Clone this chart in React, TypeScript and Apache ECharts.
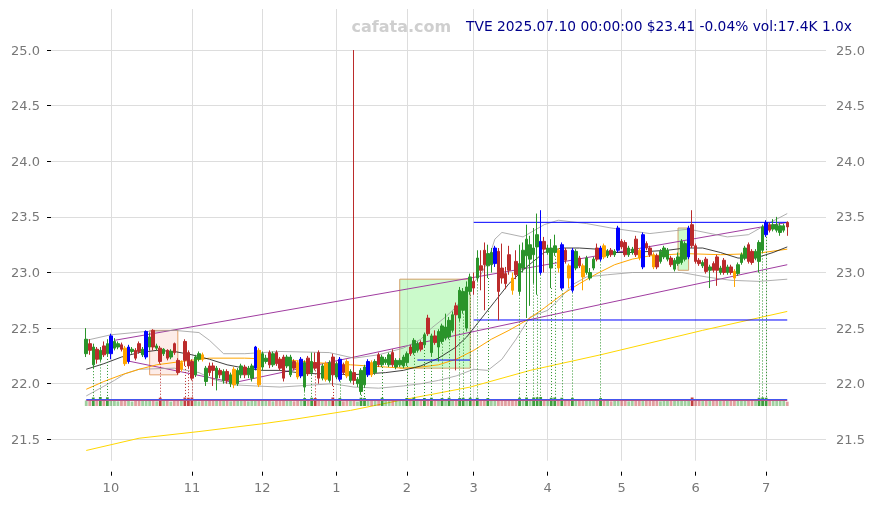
import React, { useEffect, useRef } from 'react';
import * as echarts from 'echarts';

// ---------- data ----------
const TITLE = 'TVE 2025.07.10 00:00:00 $23.41 -0.04% vol:17.4K 1.0x';
const WATERMARK = 'cafata.com';

const HOLIDAYS = ['2024-11-28', '2024-12-25', '2025-01-01', '2025-01-09', '2025-01-20', '2025-02-17', '2025-04-18', '2025-05-26', '2025-06-19', '2025-07-04'];

const yTicks = [21.5, 22.0, 22.5, 23.0, 23.5, 24.0, 24.5, 25.0];

// [open, close, low, high]
const ohlc: number[][] = [
  [22.27, 22.40, 22.24, 22.50], [22.36, 22.30, 22.26, 22.40], [22.17, 22.33, 22.14, 22.36], [22.31, 22.22, 22.18, 22.33], [22.22, 22.30, 22.20, 22.33],
  [22.34, 22.26, 22.24, 22.38], [22.27, 22.36, 22.25, 22.40], [22.27, 22.43, 22.22, 22.45], [22.32, 22.38, 22.30, 22.41], [22.33, 22.36, 22.31, 22.38],
  [22.35, 22.31, 22.29, 22.37], [22.32, 22.18, 22.16, 22.34], [22.20, 22.33, 22.18, 22.35], [22.29, 22.31, 22.27, 22.33], [22.30, 22.23, 22.21, 22.32],
  [22.36, 22.29, 22.27, 22.38], [22.26, 22.31, 22.24, 22.33], [22.24, 22.47, 22.22, 22.48], [22.33, 22.42, 22.30, 22.46], [22.48, 22.33, 22.30, 22.49],
  [22.32, 22.34, 22.30, 22.36], [22.32, 22.20, 22.18, 22.34], [22.27, 22.31, 22.25, 22.32], [22.30, 22.23, 22.21, 22.31], [22.24, 22.29, 22.22, 22.31],
  [22.36, 22.28, 22.26, 22.37], [22.21, 22.10, 22.08, 22.23], [22.13, 22.19, 22.11, 22.21], [22.38, 22.21, 22.16, 22.40], [22.28, 22.16, 22.14, 22.30],
  [22.20, 22.05, 22.03, 22.22], [22.08, 22.24, 22.06, 22.26], [22.22, 22.27, 22.20, 22.29], [22.26, 22.22, 22.20, 22.28], [22.02, 22.14, 21.98, 22.16],
  [22.16, 22.10, 22.07, 22.19], [22.16, 22.12, 21.98, 22.19], [22.05, 22.14, 21.94, 22.16], [22.12, 22.08, 22.05, 22.14], [22.03, 22.11, 22.00, 22.13],
  [22.11, 22.03, 22.00, 22.13], [22.00, 22.08, 21.97, 22.10], [22.13, 21.99, 21.96, 22.15], [22.00, 22.12, 21.98, 22.14], [22.08, 22.16, 22.05, 22.18],
  [22.15, 22.08, 22.05, 22.17], [22.08, 22.14, 22.05, 22.16], [22.05, 22.16, 22.02, 22.18], [22.14, 22.33, 22.12, 22.34], [22.30, 21.99, 21.97, 22.32],
  [22.15, 22.27, 22.12, 22.29], [22.20, 22.23, 22.18, 22.26], [22.28, 22.17, 22.14, 22.30], [22.17, 22.27, 22.15, 22.29], [22.28, 22.18, 22.16, 22.30],
  [22.22, 22.14, 22.12, 22.24], [22.24, 22.05, 22.02, 22.26], [22.16, 22.24, 22.14, 22.26], [22.08, 22.24, 22.06, 22.26], [22.20, 22.14, 22.12, 22.22],
  [22.19, 22.06, 22.04, 22.21], [22.07, 22.22, 22.05, 22.24], [21.97, 22.19, 21.93, 22.21], [22.23, 22.09, 22.07, 22.25], [22.10, 22.20, 22.08, 22.28],
  [22.19, 22.14, 22.12, 22.28], [22.28, 22.05, 22.00, 22.30], [22.05, 22.16, 22.03, 22.18], [22.18, 22.04, 22.02, 22.20], [22.03, 22.19, 22.01, 22.21],
  [22.24, 22.08, 21.98, 22.27], [22.06, 22.18, 22.04, 22.20], [22.04, 22.22, 22.02, 22.24], [22.17, 22.10, 22.08, 22.19], [22.20, 22.07, 22.05, 22.22],
  [22.03, 22.11, 22.01, 22.13], [22.10, 22.03, 21.99, 25.00], [22.00, 22.04, 21.97, 22.06], [21.93, 22.12, 21.90, 22.14], [21.99, 22.15, 21.97, 22.17],
  [22.08, 22.20, 22.06, 22.22], [22.19, 22.08, 22.06, 22.21], [22.10, 22.20, 22.08, 22.22], [22.26, 22.17, 22.15, 22.28], [22.17, 22.24, 22.15, 22.26],
  [22.19, 22.22, 22.17, 22.24], [22.17, 22.26, 22.15, 22.28], [22.28, 22.17, 22.15, 22.31], [22.15, 22.21, 22.13, 22.23], [22.17, 22.21, 22.15, 22.23],
  [22.16, 22.24, 22.14, 22.26], [22.19, 22.27, 22.16, 22.29], [22.33, 22.27, 22.25, 22.35], [22.28, 22.39, 22.26, 22.41], [22.30, 22.36, 22.28, 22.38],
  [22.37, 22.31, 22.29, 22.39], [22.35, 22.44, 22.33, 22.46], [22.59, 22.45, 22.43, 22.62], [22.28, 22.43, 22.25, 22.45], [22.43, 22.37, 22.35, 22.48],
  [22.33, 22.47, 22.20, 22.49], [22.38, 22.52, 22.36, 22.54], [22.41, 22.51, 22.39, 22.63], [22.42, 22.57, 22.40, 22.60], [22.48, 22.62, 22.46, 22.65],
  [22.70, 22.62, 22.12, 22.73], [22.59, 22.84, 22.56, 22.87], [22.66, 22.83, 22.63, 22.86], [22.50, 22.87, 22.47, 22.92], [22.83, 22.96, 22.80, 22.99],
  [22.92, 22.86, 22.80, 23.00], [22.95, 23.13, 22.92, 23.20], [23.06, 23.02, 22.84, 23.20], [23.20, 23.07, 22.66, 23.27], [23.06, 23.17, 22.95, 23.25],
  [23.07, 23.18, 23.00, 23.22], [23.08, 23.22, 23.05, 23.24], [23.19, 22.83, 22.57, 23.22], [23.04, 22.95, 22.90, 23.26], [22.99, 22.90, 22.85, 23.05],
  [23.16, 23.02, 22.98, 23.24], [22.95, 22.84, 22.80, 23.00], [23.10, 22.98, 22.94, 23.20], [22.83, 23.08, 22.80, 23.25], [23.04, 23.20, 23.00, 23.27],
  [23.15, 23.30, 22.60, 23.43], [23.12, 23.25, 22.70, 23.33], [23.16, 23.22, 22.90, 23.40], [23.23, 23.34, 22.80, 23.53], [23.00, 23.28, 22.98, 23.56],
  [23.28, 23.21, 23.00, 23.32], [23.18, 23.22, 23.16, 23.25], [23.04, 23.22, 22.86, 23.30], [23.18, 23.24, 23.15, 23.34], [23.20, 23.04, 23.00, 23.22],
  [22.86, 23.25, 22.84, 23.27], [23.20, 23.11, 23.08, 23.22], [23.06, 22.95, 22.86, 23.08], [22.84, 23.20, 22.82, 23.22], [23.04, 23.19, 23.02, 23.21],
  [23.13, 23.06, 23.04, 23.15], [23.06, 22.96, 22.84, 23.08], [23.00, 23.13, 22.98, 23.15], [22.95, 23.00, 22.93, 23.04], [23.04, 23.12, 23.02, 23.14],
  [23.22, 23.12, 23.10, 23.26], [23.12, 23.22, 23.10, 23.24], [23.24, 23.14, 23.12, 23.26], [23.15, 23.19, 23.13, 23.21], [23.20, 23.16, 23.14, 23.22],
  [23.16, 23.19, 23.14, 23.21], [23.20, 23.40, 23.18, 23.42], [23.28, 23.23, 23.21, 23.30], [23.27, 23.16, 23.14, 23.29], [23.16, 23.22, 23.14, 23.24],
  [23.18, 23.21, 23.16, 23.23], [23.30, 23.16, 23.14, 23.33], [23.20, 23.13, 23.11, 23.22], [23.05, 23.34, 23.03, 23.36], [23.26, 23.22, 23.20, 23.28],
  [23.22, 23.16, 23.14, 23.24], [23.16, 23.05, 23.03, 23.18], [23.15, 23.05, 23.03, 23.17], [23.10, 23.19, 23.08, 23.21], [23.14, 23.22, 23.12, 23.24],
  [23.12, 23.20, 23.10, 23.22], [23.13, 23.07, 23.05, 23.15], [23.03, 23.11, 23.01, 23.13], [23.08, 23.14, 23.06, 23.18], [23.09, 23.28, 23.07, 23.30],
  [23.12, 23.26, 23.10, 23.28], [23.14, 23.40, 23.12, 23.42], [23.43, 23.24, 23.22, 23.56], [23.24, 23.10, 23.08, 23.26], [23.11, 23.08, 23.06, 23.13],
  [23.06, 23.09, 23.04, 23.11], [23.12, 23.01, 22.99, 23.14], [23.02, 23.05, 22.86, 23.07], [23.08, 23.02, 23.00, 23.10], [23.14, 23.02, 22.88, 23.16],
  [23.00, 23.04, 22.98, 23.06], [23.11, 23.00, 22.98, 23.13], [23.00, 23.05, 22.98, 23.07], [23.05, 23.00, 22.98, 23.07], [23.01, 22.95, 22.87, 23.03],
  [22.99, 23.07, 22.97, 23.09], [23.09, 23.16, 23.07, 23.18], [23.13, 23.22, 23.11, 23.24], [23.25, 23.10, 23.08, 23.27], [23.19, 23.09, 23.07, 23.21],
  [23.13, 23.19, 23.11, 23.21], [23.10, 23.27, 23.00, 23.29], [23.20, 23.41, 23.18, 23.43], [23.34, 23.45, 23.32, 23.47], [23.43, 23.38, 23.36, 23.45],
  [23.39, 23.43, 23.37, 23.48], [23.38, 23.43, 23.36, 23.50], [23.36, 23.42, 23.33, 23.45], [23.38, 23.42, 23.36, 23.44], [23.45, 23.41, 23.33, 23.46],
];

// volume in thousands
const volumes = [
  22, 24, 34, 20, 36, 26, 35, 26, 21, 19,
  23, 25, 22, 18, 21, 24, 20, 27, 22, 25,
  19, 33, 21, 23, 18, 22, 26, 20, 34, 33,
  34, 22, 19, 21, 24, 22, 25, 23, 20, 21,
  22, 19, 24, 21, 20, 22, 19, 21, 26, 28,
  24, 20, 22, 19, 21, 23, 25, 20, 22, 19,
  21, 23, 32, 20, 33, 32, 24, 21, 22, 20,
  34, 21, 32, 19, 22, 20, 22, 18, 33, 32,
  24, 21, 20, 22, 33, 21, 20, 23, 21, 22,
  24, 32, 21, 33, 20, 22, 32, 24, 33, 21,
  22, 32, 21, 33, 22, 24, 32, 33, 23, 33,
  24, 33, 22, 24, 32, 21, 22, 26, 22, 21,
  23, 21, 22, 33, 22, 34, 23, 34, 35, 36,
  24, 22, 33, 34, 22, 33, 21, 22, 33, 22,
  21, 22, 22, 20, 21, 22, 32, 21, 20, 19,
  21, 24, 22, 20, 19, 21, 22, 20, 24, 21,
  20, 21, 22, 19, 20, 21, 22, 20, 21, 22,
  21, 23, 34, 22, 21, 20, 22, 21, 20, 22,
  21, 20, 22, 21, 23, 20, 21, 22, 20, 21,
  22, 33, 34, 33, 21, 20, 22, 21, 20, 17.4,
];
const volLineBlue = 28;
const volLineRed = 25;

const blueDays = [7, 12, 17, 48, 61, 72, 80, 116, 129, 135, 138, 146, 151, 158, 171, 193];
const orangeDays = [11, 27, 33, 42, 49, 60, 68, 74, 81, 121, 134, 137, 141, 147, 157, 161, 184];
const dottedDays = [2, 4, 6, 21, 28, 29, 30, 62, 64, 65, 70, 72, 78, 79, 84, 91, 93, 96, 98, 101, 103, 106, 107, 109, 111, 114, 123, 125, 127, 128, 129, 132, 133, 135, 138, 146, 191, 192, 193];
const dottedBottom = 21.85;

// overlay lines: [candle index, price]
const yellowPts = [[0, 21.40], [15, 21.51], [32, 21.57], [50, 21.64], [59, 21.68], [75, 21.76], [89, 21.85], [109, 21.97], [126, 22.12], [146, 22.26], [175, 22.48], [199, 22.65]];
const blackPts = [[0, 22.13], [5, 22.18], [10, 22.24], [15, 22.28], [20, 22.30], [25, 22.29], [30, 22.26], [35, 22.22], [40, 22.17], [45, 22.14], [50, 22.12], [55, 22.12], [60, 22.10], [65, 22.09], [70, 22.09], [75, 22.08], [80, 22.09], [85, 22.10], [90, 22.12], [95, 22.16], [100, 22.23], [105, 22.33], [108, 22.42], [110, 22.50], [113, 22.62], [116, 22.74], [120, 22.90], [125, 23.05], [130, 23.18], [135, 23.22], [140, 23.22], [145, 23.21], [150, 23.18], [155, 23.18], [160, 23.19], [165, 23.20], [170, 23.22], [175, 23.22], [180, 23.18], [185, 23.13], [190, 23.13], [195, 23.18], [199, 23.23]];
const orangePts = [[0, 21.95], [5, 22.02], [10, 22.08], [15, 22.13], [20, 22.17], [27, 22.20], [35, 22.23], [45, 22.23], [55, 22.22], [65, 22.19], [75, 22.17], [85, 22.15], [90, 22.14], [95, 22.15], [100, 22.17], [105, 22.22], [110, 22.30], [115, 22.40], [120, 22.48], [125, 22.57], [130, 22.68], [135, 22.80], [140, 22.90], [145, 22.99], [150, 23.07], [155, 23.12], [160, 23.15], [170, 23.17], [180, 23.16], [190, 23.17], [199, 23.21]];
const upperBandPts = [[0, 22.39], [7, 22.44], [17, 22.47], [25, 22.48], [32, 22.46], [35, 22.39], [39, 22.27], [45, 22.27], [55, 22.29], [69, 22.28], [76, 22.23], [83, 22.26], [90, 22.32], [95, 22.40], [98, 22.50], [102, 22.60], [105, 22.69], [109, 22.88], [112, 22.98], [114, 23.10], [116, 23.30], [118, 23.36], [124, 23.32], [130, 23.43], [134, 23.47], [142, 23.44], [149, 23.40], [160, 23.35], [171, 23.39], [182, 23.32], [188, 23.34], [193, 23.43], [199, 23.53]];
const lowerBandPts = [[0, 21.89], [8, 22.03], [11, 22.09], [15, 22.13], [25, 22.14], [32, 22.10], [36, 22.04], [42, 21.99], [48, 21.98], [55, 21.97], [65, 21.99], [70, 22.00], [76, 21.97], [83, 21.96], [90, 21.98], [95, 22.00], [100, 22.03], [105, 22.07], [110, 22.13], [114, 22.12], [118, 22.22], [122, 22.40], [126, 22.60], [131, 22.66], [134, 22.75], [138, 22.89], [142, 22.96], [148, 22.98], [155, 23.00], [169, 23.00], [176, 22.96], [183, 22.93], [191, 22.92], [199, 22.94]];
const upperChannel = [[8, 22.39], [199, 23.45]];
const lowerChannel = [[11, 22.21], [42, 22.01], [199, 23.07]];
const blueLevels = [
  [[110, 23.451], [199, 23.451]],
  [[110, 22.573], [199, 22.573]],
  [[94, 22.213], [109, 22.213]],
];
// boxes: [fromIndex, top, toIndex, bottom, kind]
const boxes: [number, number, number, number, string][] = [
  [18, 22.48, 26, 22.08, 'pink'],
  [89, 22.94, 109, 22.14, 'green'],
  [168, 23.40, 171, 23.02, 'green'],
];

// ---------- helpers ----------
const PAD_L = 10;
const PAD_R = 11;
const YMIN = 21.308;
const YMAX = 25.369;
const UP = '#2a942a';
const DOWN = '#bb2b2b';
const FONT = 'DejaVu Sans';

function buildDates(): string[] {
  const out: string[] = [];
  let t = Date.UTC(2024, 8, 20);
  const end = Date.UTC(2025, 6, 10);
  while (t <= end) {
    const d = new Date(t);
    const wd = d.getUTCDay();
    const s = d.toISOString().slice(0, 10);
    if (wd !== 0 && wd !== 6 && HOLIDAYS.indexOf(s) < 0) out.push(s);
    t += 86400000;
  }
  return out;
}

function buildOption() {
  const dates = buildDates();
  const cats: string[] = [];
  for (let k = 0; k < PAD_L; k++) cats.push('pre' + k);
  dates.forEach((d) => cats.push(d));
  for (let k = 0; k < PAD_R; k++) cats.push('post' + k);
  const X = (i: number) => i + PAD_L;

  const isMonthStart = (idx: number) => {
    if (idx <= PAD_L || idx >= PAD_L + dates.length) return false;
    return cats[idx].slice(5, 7) !== cats[idx - 1].slice(5, 7);
  };

  const padL = Array(PAD_L).fill('-');
  const padR = Array(PAD_R).fill('-');

  const candleItems = ohlc.map((r, i) => {
    let c: string | null = null;
    if (blueDays.indexOf(i) >= 0) c = '#0000ff';
    if (orangeDays.indexOf(i) >= 0) c = '#ffa500';
    if (c) return { value: r, itemStyle: { color: c, color0: c, borderColor: c, borderColor0: c } };
    return r;
  });

  const volItems = volumes.map((v, i) => {
    const r = ohlc[i];
    const up = r[1] >= r[0];
    const strong = dottedDays.indexOf(i) >= 0 || v >= 30;
    const col = up
      ? (strong ? 'rgba(42,148,42,0.9)' : 'rgba(42,148,42,0.45)')
      : (strong ? 'rgba(187,43,43,0.9)' : 'rgba(187,43,43,0.45)');
    return { value: v, itemStyle: { color: col } };
  });

  const dotted = dottedDays.map((i) => {
    const r = ohlc[i];
    const up = r[1] >= r[0];
    return [
      { coord: [X(i), r[2]], lineStyle: { color: up ? UP : DOWN } },
      { coord: [X(i), dottedBottom] },
    ];
  });

  const mkLine = (pts: number[][], color: string, width: number, z = 2) => ({
    type: 'line',
    xAxisIndex: 0,
    yAxisIndex: 0,
    data: pts.map(([i, v]) => [X(i), v]),
    symbol: 'none',
    showSymbol: false,
    lineStyle: { color, width },
    silent: true,
    z,
  });

  const areaData = boxes.map(([a, top, b, bot, kind]) => [
    {
      coord: [X(a), top],
      itemStyle: kind === 'pink'
        ? { color: 'rgba(248,200,190,0.35)', borderColor: '#e3a06a', borderWidth: 1 }
        : { color: 'rgba(140,245,140,0.45)', borderColor: '#d4a06a', borderWidth: 1 },
    },
    { coord: [X(b), bot] },
  ]);

  const yFmt = (v: number) => {
    const r = Math.round(v * 2) / 2;
    return Math.abs(v - r) < 1e-6 ? v.toFixed(1) : '';
  };

  return {
    animation: false,
    grid: [
      { left: 51, right: 49, top: 9, bottom: 44.3 },
      { left: 51, right: 49, top: 396, height: 10 },
    ],
    graphic: [
      {
        type: 'text',
        style: { text: WATERMARK, x: 351.5, y: 26, align: 'left', verticalAlign: 'middle', fill: '#cfcfcf', fontSize: 16, fontWeight: 'bold', fontFamily: FONT },
        z: 10,
      },
      {
        type: 'text',
        style: { text: TITLE, x: 852, y: 25.5, align: 'right', verticalAlign: 'middle', fill: '#00008b', fontSize: 13.8, fontFamily: FONT },
        z: 10,
      },
    ],
    xAxis: [
      {
        type: 'category',
        gridIndex: 0,
        data: cats,
        boundaryGap: false,
        offset: 11,
        axisLine: { show: false },
        axisTick: { show: true, interval: (i: number) => isMonthStart(i), length: 4, lineStyle: { color: '#000' } },
        axisLabel: {
          interval: (i: number) => isMonthStart(i),
          formatter: (v: string) => String(Number(v.slice(5, 7))),
          color: '#777',
          fontSize: 13,
          fontFamily: FONT,
          margin: 9,
        },
        splitLine: { show: true, interval: (i: number) => isMonthStart(i), lineStyle: { color: '#dddddd', width: 1 } },
      },
      {
        type: 'category',
        gridIndex: 1,
        data: cats,
        boundaryGap: false,
        show: false,
      },
    ],
    yAxis: [
      {
        type: 'value',
        gridIndex: 0,
        position: 'left',
        min: YMIN,
        max: YMAX,
        splitNumber: 8,
        axisLine: { show: false },
        axisTick: { show: true, length: 4, lineStyle: { color: '#000' }, customValues: yTicks },
        axisLabel: { customValues: yTicks, formatter: yFmt, color: '#777', fontSize: 13, fontFamily: FONT, margin: 11 },
        splitLine: { show: true, lineStyle: { color: '#dddddd', width: 1 } },
      },
      {
        type: 'value',
        gridIndex: 0,
        position: 'right',
        min: YMIN,
        max: YMAX,
        splitNumber: 8,
        axisLine: { show: false },
        axisTick: { show: false },
        axisLabel: { customValues: yTicks, formatter: yFmt, color: '#777', fontSize: 13, fontFamily: FONT, margin: 10 },
        splitLine: { show: false },
      },
      {
        type: 'value',
        gridIndex: 1,
        min: 0,
        max: 40,
        show: false,
      },
    ],
    series: [
      {
        type: 'line',
        xAxisIndex: 0,
        yAxisIndex: 0,
        data: [[X(0), 22.3]],
        symbol: 'none',
        lineStyle: { opacity: 0 },
        silent: true,
        z: 1,
        markArea: { silent: true, data: areaData },
      },
      mkLine(yellowPts, '#ffd700', 1),
      mkLine(lowerChannel, '#a03ca0', 1),
      mkLine(upperChannel, '#a03ca0', 1),
      mkLine(upperBandPts, '#9a9a9a', 0.8),
      mkLine(lowerBandPts, '#9a9a9a', 0.8),
      mkLine(orangePts, '#ffa500', 1),
      mkLine(blackPts, '#111111', 0.8),
      ...blueLevels.map((pts) => mkLine(pts, '#0000ff', 1, 3)),
      {
        type: 'candlestick',
        xAxisIndex: 0,
        yAxisIndex: 0,
        barWidth: 3,
        z: 5,
        silent: true,
        data: [...padL, ...candleItems, ...padR],
        itemStyle: { color: UP, color0: DOWN, borderColor: UP, borderColor0: DOWN, borderWidth: 1 },
        markLine: {
          silent: true,
          symbol: ['none', 'none'],
          label: { show: false },
          lineStyle: { type: [1, 2], width: 1 },
          data: dotted,
        },
      },
      {
        type: 'bar',
        xAxisIndex: 1,
        yAxisIndex: 2,
        barWidth: 2.8,
        silent: true,
        z: 4,
        data: [...padL, ...volItems, ...padR],
        markLine: {
          silent: true,
          symbol: ['none', 'none'],
          label: { show: false },
          data: [
            [{ coord: [X(0), volLineBlue], lineStyle: { color: '#4455ee', width: 1, type: 'solid' } }, { coord: [X(ohlc.length - 1), volLineBlue] }],
            [{ coord: [X(0), volLineRed], lineStyle: { color: '#b0508a', width: 1, type: 'solid' } }, { coord: [X(ohlc.length - 1), volLineRed] }],
          ],
        },
      },
    ],
  };
}

export default function App() {
  const ref = useRef<HTMLDivElement>(null);
  useEffect(() => {
    if (!ref.current) return;
    const chart = echarts.init(ref.current, null, { renderer: 'svg' });
    chart.setOption(buildOption() as any);
    return () => chart.dispose();
  }, []);
  return <div ref={ref} style={{ position: 'fixed', left: 0, top: 0, width: 875, height: 505 }} />;
}
